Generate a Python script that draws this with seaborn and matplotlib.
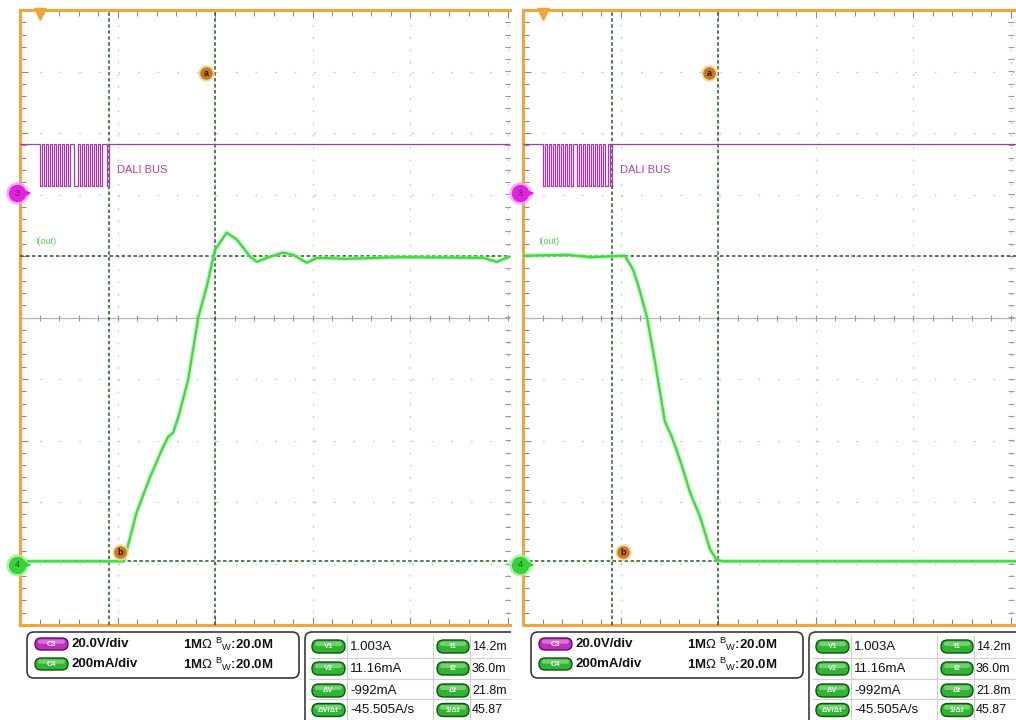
import numpy as np
import pandas as pd
import matplotlib
matplotlib.use("Agg")
import matplotlib.pyplot as plt
from matplotlib.patches import FancyBboxPatch
from matplotlib.ticker import FixedLocator, MultipleLocator
import seaborn as sns

sns.set_style("white")
plt.rcParams["font.family"] = ["Liberation Sans", "DejaVu Sans"]
plt.rcParams["lines.scale_dashes"] = False
plt.rcParams["mathtext.fontset"] = "custom"
plt.rcParams["mathtext.rm"] = "Liberation Sans"

# ---------------- scope settings ----------------
TIME_DIV_MS = 20.0
CH3_VOLT_DIV = 20.0
CH4_MA_DIV = 200.0
CH3_OFFSET_DIV = 2.02
CH4_OFFSET_DIV = -4.02
HALF_BIT_MS = 0.4167
DALI_HIGH_V = 16.0
DALI_LOW_V = 2.4

# ---------------- captured waveforms ----------------
# turn-on: DALI frame 0xFE 0xFE (broadcast, arc power 254)
dali_on_bits = [1, 1, 1, 1, 1, 1, 1, 1, 0, 1, 1, 1, 1, 1, 1, 1, 0]
on_time_ms = [-4.0, 17.3, 19.9, 22.7, 25.1, 26.4, 27.4, 28.5, 30.5, 32.6, 34.3,
              36.0, 38.4, 40.5, 43.2, 44.6, 46.6, 49.9, 52.0, 54.8, 56.9, 63.0,
              73.9, 91.0, 93.8, 96.5]
on_current_ma = [11, 11, 169, 286, 374, 416, 429, 481, 602, 806, 904,
                 1024, 1080, 1057, 1002, 985, 998, 1015, 1008, 982, 998, 995,
                 1000, 998, 985, 1002]

# turn-off: DALI frame 0xFE 0x00 (broadcast, arc power 0)
dali_off_bits = [1, 1, 1, 1, 1, 1, 1, 1, 0, 0, 0, 0, 0, 0, 0, 0, 0]
off_time_ms = [-4.0, 5.0, 10.0, 16.9, 18.6, 19.7, 21.4, 23.1, 25.1, 26.5, 28.2,
               30.3, 32.3, 34.4, 35.7, 37.0, 97.5]
off_current_ma = [1005, 1008, 1000, 1005, 959, 905, 807, 657, 466, 417, 341,
                  234, 157, 49, 16, 11, 11]

# cursor readings
cursor_t1_ms = 14.2
cursor_t2_ms = 36.0
cursor_v1_ma = 1003.0
cursor_v2_ma = 11.16

channel_rows = [("C3", "20.0V/div"), ("C4", "200mA/div")]
meas_left = [("V1", "1.003A"), ("V2", "11.16mA"), ("ΔV", "-992mA"), ("ΔV/Δt", "-45.505A/s")]
meas_right = [("t1", "14.2m"), ("t2", "36.0m"), ("Δt", "21.8m"), ("1/Δt", "45.87")]

# ---------------- colours ----------------
ORANGE = "#f2a53a"
MAGENTA = "#a83aa8"
GREEN = "#3ddb3d"
CURSOR = "#1f5c1f"
GRID = "#c4c4c4"

W, H = 1016, 720
PX_PER_MS = 4.875
PX_PER_DIV = 61.5


def ch4_div(ma):
    return np.asarray(ma, float) / CH4_MA_DIV + CH4_OFFSET_DIV


def ch3_div(v):
    return np.asarray(v, float) / CH3_VOLT_DIV + CH3_OFFSET_DIV


def dali_trace(bits, t_end):
    levels = []
    for b in bits:
        levels += [DALI_LOW_V, DALI_HIGH_V] if b else [DALI_HIGH_V, DALI_LOW_V]
    t = [-4.0] + [k * HALF_BIT_MS for k in range(len(levels))] + [len(levels) * HALF_BIT_MS, t_end]
    v = [DALI_HIGH_V] + levels + [DALI_HIGH_V, DALI_HIGH_V]
    return pd.DataFrame({"t": t, "div": ch3_div(v)})


def draw_screen(x0, width_px, bits, t_ms, i_ma):
    ax = fig.add_axes([x0 / W, (H - 625) / H, width_px / W, 615 / H])
    t_max = -4.0 + width_px / PX_PER_MS
    ax.set_xlim(-4.0, t_max)
    ax.set_ylim(-5, 5)
    ax.set_facecolor("white")

    for side in ("left", "top", "bottom"):
        ax.spines[side].set_color(ORANGE)
        ax.spines[side].set_linewidth(2.2)
    ax.spines["right"].set_visible(False)

    ax.xaxis.set_major_locator(FixedLocator(np.arange(16, t_max, TIME_DIV_MS)))
    ax.xaxis.set_minor_locator(MultipleLocator(4))
    ax.yaxis.set_major_locator(FixedLocator([-4, -3, -2, -1, 1, 2, 3, 4]))
    ax.yaxis.set_minor_locator(MultipleLocator(0.2))
    ax.tick_params(which="both", direction="in", top=True, bottom=True, left=True,
                   right=False, labelbottom=False, labelleft=False, color="#8a8a8a", width=0.8)
    ax.tick_params(which="major", length=6)
    ax.tick_params(which="minor", length=4)
    ax.xaxis.grid(True, which="major", color=GRID, lw=0.9, linestyle=(0, (1.2, 7.6)))
    ax.yaxis.grid(True, which="major", color=GRID, lw=0.9, linestyle=(0, (1.2, 12.9)))

    # centre graticule axes with their minor marks
    ax.axhline(0, color="#b5b5b5", lw=0.9, zorder=1)
    mx = np.arange(-4, t_max, 4)
    ax.plot(mx, np.zeros_like(mx), ls="none", marker="|", ms=5, mew=0.8, color="#9a9a9a", zorder=1)
    my = np.arange(-5, 5.01, 0.2)
    ax.plot(np.full_like(my, 96.0), my, ls="none", marker="_", ms=5, mew=0.8, color="#9a9a9a", zorder=1)

    # cursors
    for t in (cursor_t1_ms, cursor_t2_ms):
        ax.axvline(t, color=CURSOR, lw=1.1, ls=(0, (2.5, 1.8)), zorder=3)
    for ma in (cursor_v1_ma, cursor_v2_ma):
        ax.axhline(ch4_div(ma), color=CURSOR, lw=1.1, ls=(0, (2.5, 1.8)), zorder=3)

    # channel 3: DALI bus
    dali = dali_trace(bits, t_max)
    sns.lineplot(data=dali, x="t", y="div", ax=ax, color=MAGENTA, lw=0.9,
                 drawstyle="steps-post", estimator=None, sort=False, zorder=4)

    # channel 4: output current
    cur = pd.DataFrame({"t": t_ms, "div": ch4_div(i_ma)})
    sns.lineplot(data=cur, x="t", y="div", ax=ax, color="#9af09a", lw=3.2,
                 estimator=None, sort=False, alpha=0.6, zorder=4)
    sns.lineplot(data=cur, x="t", y="div", ax=ax, color=GREEN, lw=1.6,
                 estimator=None, sort=False, zorder=5)
    ax.set_xlabel("")
    ax.set_ylabel("")

    def px2t(px):
        return -4.0 + px / PX_PER_MS

    # trace labels
    ax.text(px2t(97), 2.40, "DALI BUS", color="#b040b0", fontsize=8,
            va="center", ha="left", zorder=6)
    ax.text(px2t(15), 1.23, "I(out)", color="#4fcf4f", fontsize=6.5,
            va="center", ha="left", zorder=6)

    # trigger marker
    ax.plot([0], [4.93], marker="v", ms=8, color=ORANGE, clip_on=False, zorder=7)

    # cursor tags
    for (tx, ty, lab) in ((px2t(186), 3.98, "a"), (px2t(100), -3.81, "b")):
        ax.plot([tx], [ty], marker="o", ms=11, color="#f6d49a", alpha=0.8, zorder=7)
        ax.plot([tx], [ty], marker="o", ms=8, color="#c9781c", zorder=8)
        ax.text(tx, ty - 0.01, lab, fontsize=6.5, color="#2a1500", ha="center",
                va="center", fontweight="bold", zorder=9)

    # channel ground / offset markers
    for (y, face, glow, lab) in ((CH3_OFFSET_DIV, "#e21fe2", "#f7a0f7", "3"),
                                 (CH4_OFFSET_DIV, "#35d435", "#a0f0a0", "4")):
        cx = px2t(-3)
        ax.plot([cx], [y], marker="o", ms=15, color=glow, alpha=0.8, clip_on=False, zorder=9)
        ax.plot([cx], [y], marker="o", ms=11.5, color=face, clip_on=False, zorder=10)
        ax.text(cx, y, lab, fontsize=6.5, color="#404040", ha="center", va="center",
                clip_on=False, zorder=11)
        ax.annotate("", xy=(px2t(14), y), xytext=(px2t(5), y),
                    arrowprops=dict(arrowstyle="-|>", color=face, lw=1.2, mutation_scale=7),
                    annotation_clip=False, zorder=10)
    return ax


def pill(ax, x, y, w, h, label, face, edge, fs=5.5):
    ax.add_patch(FancyBboxPatch((x, y - h / 2), w, h,
                                boxstyle=f"round,pad=0,rounding_size={h / 2}",
                                fc=face, ec=edge, lw=1.0, zorder=3))
    ax.add_patch(FancyBboxPatch((x + 3, y - h / 2 + 1.5), w - 6, h * 0.35,
                                boxstyle=f"round,pad=0,rounding_size={h * 0.17}",
                                fc="white", ec="none", alpha=0.35, zorder=4))
    ax.text(x + w / 2, y + 0.5, label, fontsize=fs, color="#e8ffe8", ha="center",
            va="center", fontweight="bold", zorder=5, clip_on=True)


def draw_info(x_lo, x_hi, dx):
    ax = fig.add_axes([x_lo / W, 0, (x_hi - x_lo) / W, 1])
    ax.set_xlim(x_lo, x_hi)
    ax.set_ylim(H, 0)
    ax.axis("off")
    ax.patch.set_alpha(0)

    # channel settings box
    ax.add_patch(FancyBboxPatch((27 + dx, 632), 272, 46,
                                boxstyle="round,pad=0,rounding_size=7",
                                fc="white", ec="#3a3a3a", lw=1.2, zorder=2))
    for (name, scale), y in zip(channel_rows, (644, 664)):
        if name == "C3":
            pill(ax, 35 + dx, y, 33, 12, name, "#c22cc2", "#5e105e")
        else:
            pill(ax, 35 + dx, y, 33, 12, name, "#2fb52f", "#0c560c")
        ax.text(72 + dx, y, scale, fontsize=9.5, color="#111", va="center", ha="left",
                fontweight="bold", zorder=5)
        ax.text(183 + dx, y, r"1M$\Omega$ ${}^{\mathrm{B}}{}_{\mathrm{W}}$:20.0M", fontsize=9.5,
                color="#111", va="center", ha="left", fontweight="bold", zorder=5)

    # cursor measurement table
    ax.add_patch(FancyBboxPatch((305 + dx, 632), 260, 110,
                                boxstyle="round,pad=0,rounding_size=7",
                                fc="white", ec="#3a3a3a", lw=1.2, zorder=2))
    for yl in (657.5, 679, 699):
        ax.plot([309 + dx, 600 + dx], [yl, yl], color="#cfcfcf", lw=0.8, zorder=2.5)
    for xl in (347, 433, 470):
        ax.plot([xl + dx, xl + dx], [636, 720], color="#cfcfcf", lw=0.8, zorder=2.5)
    rows_y = (646.5, 668.5, 690.5, 710)
    for (lab, val), y in zip(meas_left, rows_y):
        pill(ax, 312 + dx, y, 33, 13, lab, "#2fb52f", "#0c560c")
        ax.text(350 + dx, y, val, fontsize=9.5, color="#111", va="center", ha="left",
                zorder=5, clip_on=True)
    for (lab, val), y in zip(meas_right, rows_y):
        pill(ax, 437 + dx, y, 32, 13, lab, "#2fb52f", "#0c560c")
        ax.text(472 + dx, y, val, fontsize=9, color="#111", va="center", ha="left",
                zorder=5, clip_on=True)
    # keep everything inside this half of the sheet
    for art in ax.patches + ax.lines + ax.texts:
        art.set_clip_on(True)
        art.set_clip_box(ax.bbox)
    return ax


fig = plt.figure(figsize=(W / 100, H / 100), dpi=100)
fig.patch.set_facecolor("white")

draw_info(0, 511, 0)
draw_info(511, W, 504)
draw_screen(20, 490, dali_on_bits, on_time_ms, on_current_ma)
draw_screen(523, 493, dali_off_bits, off_time_ms, off_current_ma)

fig.savefig("out.png", dpi=100, facecolor="white")
